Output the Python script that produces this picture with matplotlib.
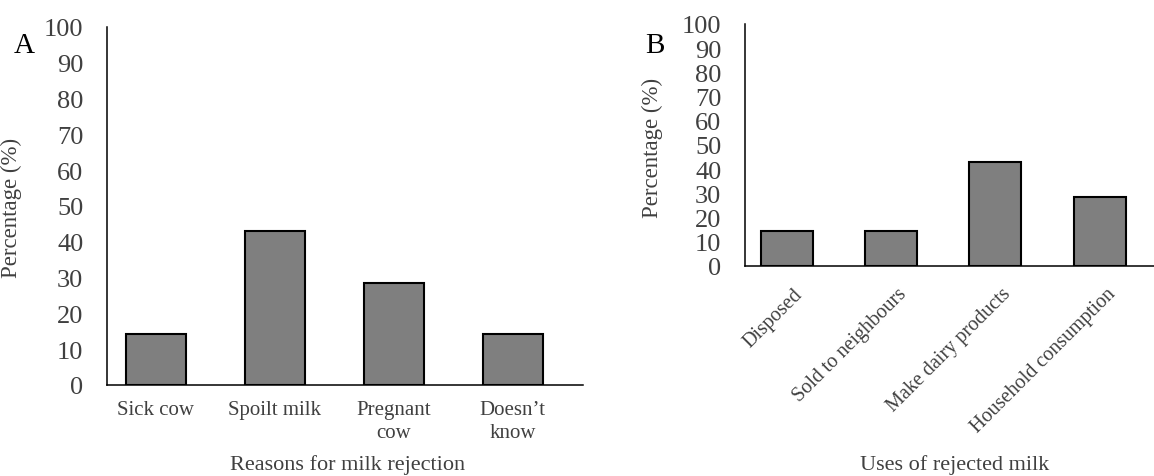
import numpy as np
import matplotlib.pyplot as plt
from matplotlib.transforms import ScaledTranslation

plt.rcParams['font.family'] = ['Liberation Serif', 'DejaVu Serif']

# Panel A: razones de rechazo
razones = ["Sick cow", "Spoilt milk", "Pregnant\ncow", "Doesn\u2019t\nknow"]
pct_razones = [14.3, 42.9, 28.6, 14.3]

# Panel B: usos de la leche rechazada
usos = ["Disposed", "Sold to neighbours", "Make dairy products", "Household consumption"]
pct_usos = [14.3, 14.3, 42.9, 28.6]

yticks = np.arange(0, 101, 10)
gris_txt = "#404040"

fig = plt.figure(figsize=(11.54, 4.77), dpi=100)
axA = fig.add_axes([0.0927, 0.1908, 0.4125, 0.7505])
axB = fig.add_axes([0.6456, 0.4403, 0.3544, 0.5073])

for ax in (axA, axB):
    for s in ("top", "right"):
        ax.spines[s].set_visible(False)
    ax.spines["left"].set_linewidth(1.1)
    ax.spines["bottom"].set_linewidth(1.1)
    ax.set_ylim(0, 100)
    ax.set_yticks(yticks)
    ax.tick_params(axis="y", length=0, pad=17, labelsize=19, labelcolor=gris_txt)
    ax.tick_params(axis="x", length=0, labelcolor=gris_txt)

# A
xa = np.arange(len(razones))
axA.bar(xa, pct_razones, width=0.5, color="#7f7f7f", edgecolor="black", linewidth=1.5, zorder=3)
axA.set_xlim(-0.41, 3.59)
axA.set_xticks(xa)
axA.set_xticklabels(razones, fontsize=15, linespacing=1.3)
axA.tick_params(axis="x", pad=11)
axA.set_ylabel("Percentage (%)", fontsize=16.5, color=gris_txt)
axA.yaxis.set_label_coords(-0.1786, 0.497)
axA.set_xlabel("Reasons for milk rejection", fontsize=16, color=gris_txt, va="center")
axA.xaxis.set_label_coords(0.505, -0.222)

# B
xb = np.arange(len(usos))
axB.bar(xb, pct_usos, width=0.5, color="#7f7f7f", edgecolor="black", linewidth=1.5, zorder=3)
axB.set_xlim(-0.40, 3.52)
axB.set_xticks(xb)
axB.set_xticklabels(usos, fontsize=14.5, rotation=45, ha="right", va="center",
                    rotation_mode="anchor")
axB.tick_params(axis="x", pad=0)
offset = ScaledTranslation(0.13, -0.25, fig.dpi_scale_trans)
for lab in axB.get_xticklabels():
    lab.set_transform(lab.get_transform() + offset)
axB.set_ylabel("Percentage (%)", fontsize=16.5, color=gris_txt)
axB.yaxis.set_label_coords(-0.2005, 0.492)
axB.set_xlabel("Uses of rejected milk", fontsize=16, color=gris_txt, va="center")
axB.xaxis.set_label_coords(0.513, -0.818)

fig.text(24/1154, 1 - 46/477, "A", fontsize=21, ha="center", va="center")
fig.text(655/1154, 1 - 46/477, "B", fontsize=21, ha="center", va="center")

fig.savefig("out.png", dpi=100)
